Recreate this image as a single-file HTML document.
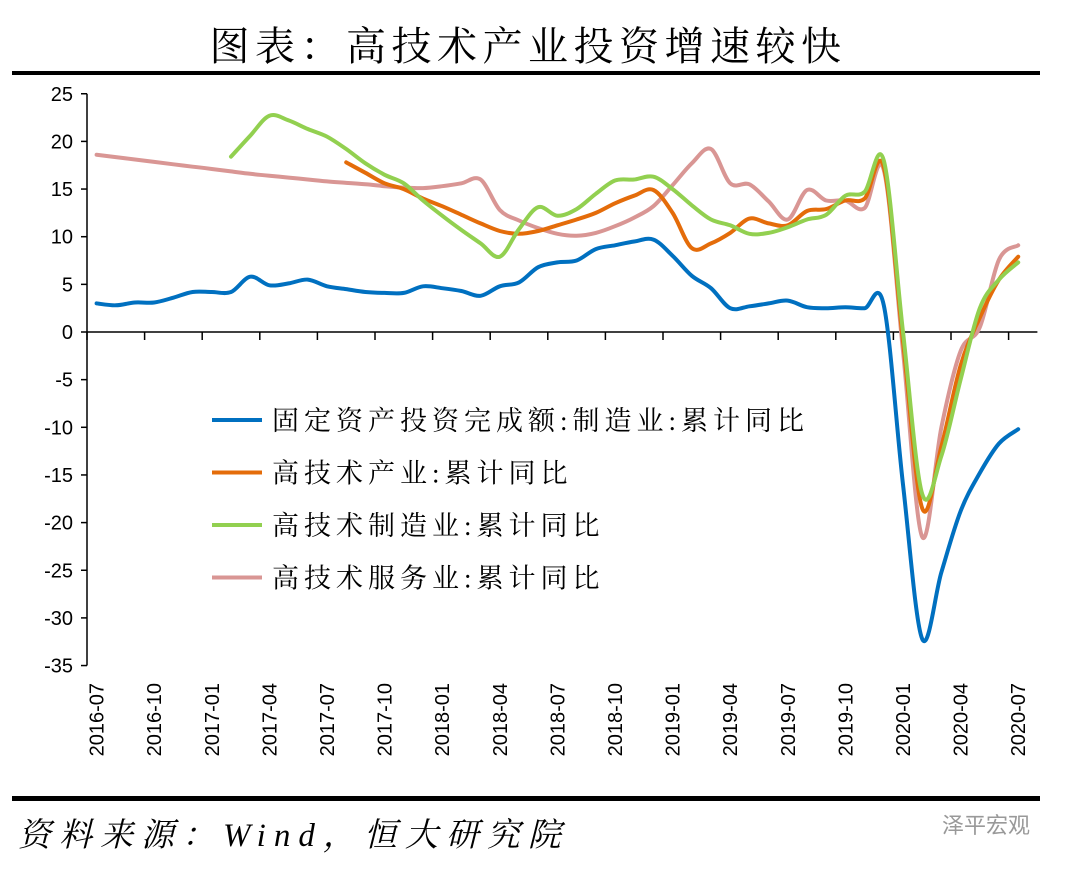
<!DOCTYPE html>
<html><head><meta charset="utf-8">
<style>
body{margin:0;background:#fff;width:1065px;height:870px;overflow:hidden;}
svg{display:block}
</style></head>
<body>
<svg id="chart" width="1065" height="870" xmlns="http://www.w3.org/2000/svg">
<text x="528" y="60" text-anchor="middle" font-family="'Liberation Serif','Noto Serif CJK SC',serif" font-size="40" letter-spacing="5.5" fill="#000">图表：高技术产业投资增速较快</text>
<rect x="12" y="71" width="1028" height="4" fill="#000"/>
<rect x="12" y="796" width="1028" height="5" fill="#000"/>
<text x="18" y="846" font-family="'Liberation Serif','Noto Serif CJK SC',serif" font-style="italic" font-size="33" letter-spacing="8" fill="#000">资料来源：Wind，恒大研究院</text>
<text x="1030" y="833" text-anchor="end" font-family="'Liberation Sans','Noto Sans CJK SC',sans-serif" font-size="22" fill="#999">泽平宏观</text>
<g id="axes"></g>
<g id="series"></g>
<g id="legend"></g>
</svg>
<script>
const months = [];
for(let y=2016,m=7;!(y===2020&&m===8);){months.push(y+'-'+String(m).padStart(2,'0'));m++;if(m>12){m=1;y++;}}
const yTicks = [25,20,15,10,5,0,-5,-10,-15,-20,-25,-30,-35];
const xTickLabels = ['2016-07','2016-10','2017-01','2017-04','2017-07','2017-10','2018-01','2018-04','2018-07','2018-10','2019-01','2019-04','2019-07','2019-10','2020-01','2020-04','2020-07'];
const seriesNames = ['固定资产投资完成额:制造业:累计同比','高技术产业:累计同比','高技术制造业:累计同比','高技术服务业:累计同比'];
const seriesColors = ['#0070c0','#e46c0a','#92d050','#d99694'];
const N = null;
const fai = [3.0,2.8,3.1,3.1,3.6,4.2,4.2,4.2,5.8,4.9,5.1,5.5,4.8,4.5,4.2,4.1,4.1,4.8,4.6,4.3,3.8,4.8,5.2,6.8,7.3,7.5,8.7,9.1,9.5,9.7,8.0,5.9,4.6,2.5,2.7,3.0,3.3,2.6,2.5,2.6,2.5,2.8,-16,-32.2,-25.2,-18.8,-14.8,-11.7,-10.2];
const hiTech = [N,N,N,N,N,N,N,N,N,N,N,N,N,17.8,16.7,15.6,15.0,14.0,13.2,12.3,11.4,10.6,10.3,10.6,11.2,11.8,12.5,13.5,14.3,14.9,12.5,8.8,9.3,10.4,11.9,11.4,11.2,12.7,12.9,13.8,14.0,17.3,-1,-18.5,-12,-3.5,1.5,5.5,7.9];
const hiMfg = [N,N,N,N,N,N,N,18.4,20.6,22.7,22.2,21.3,20.5,19.2,17.7,16.5,15.6,13.8,12.2,10.7,9.3,7.9,10.8,13.1,12.2,12.9,14.5,15.9,16.0,16.3,15.0,13.3,11.8,11.2,10.3,10.4,11.0,11.8,12.3,14.3,14.7,18.0,0,-17.0,-13,-5,2.5,5.5,7.3];
const hiSvc = [18.6,18.35,18.1,17.85,17.6,17.35,17.1,16.85,16.6,16.4,16.2,16.0,15.8,15.65,15.5,15.3,15.15,15.1,15.3,15.6,16.0,12.8,11.7,10.9,10.3,10.1,10.4,11.1,12.0,13.2,15.4,17.7,19.2,15.6,15.5,13.7,11.8,14.9,13.8,13.8,13.0,17.0,-2,-21.5,-10,-2,0.5,7.6,9.1];
const allSeries = [fai,hiTech,hiMfg,hiSvc];

const NS='http://www.w3.org/2000/svg';
const X0=87, STEP=19.2, Y0=332, PER=9.53;
function xPos(i){return X0+STEP*(i+0.5);}
function yPos(v){return Y0-PER*v;}
function mk(tag,attrs,parent){const e=document.createElementNS(NS,tag);for(const k in attrs)e.setAttribute(k,attrs[k]);parent.appendChild(e);return e;}
const axes=document.getElementById('axes');
const yAxis=mk('line',{x1:X0,y1:yPos(25),x2:X0,y2:yPos(-35),stroke:'#000','stroke-width':1.5},axes);


yTicks.forEach(v=>{
  const t=mk('line',{x1:X0-6,y1:yPos(v),x2:X0,y2:yPos(v),stroke:'#000','stroke-width':1.5},axes);
  
  
  const l=mk('text',{x:X0-14,y:yPos(v)+7,'text-anchor':'end','font-family':"'Liberation Sans',sans-serif",'font-size':20,fill:'#000'},axes);
  l.textContent=v;
  
  
});
const xAxis=mk('line',{x1:X0,y1:Y0,x2:X0+STEP*49.5,y2:Y0,stroke:'#000','stroke-width':1.5},axes);


for(let i=0;i<=49;i+=3){
  const t=mk('line',{x1:X0+STEP*i,y1:Y0,x2:X0+STEP*i,y2:Y0+8,stroke:'#000','stroke-width':1.5},axes);
  
  
}
xTickLabels.forEach(lab=>{
  const i=months.indexOf(lab);
  const x=xPos(i)+7, y=683;
  const l=mk('text',{x:x,y:y,'text-anchor':'end','font-family':"'Liberation Sans',sans-serif",'font-size':20,fill:'#000',transform:`rotate(-90 ${x} ${y})`},axes);
  l.textContent=lab;
  
  
});
function smoothPath(pts){
  let d=`M${pts[0][0]},${pts[0][1]}`;
  for(let i=0;i<pts.length-1;i++){
    const p0=pts[Math.max(0,i-1)],p1=pts[i],p2=pts[i+1],p3=pts[Math.min(pts.length-1,i+2)];
    const c1=[p1[0]+(p2[0]-p0[0])/6,p1[1]+(p2[1]-p0[1])/6];
    const c2=[p2[0]-(p3[0]-p1[0])/6,p2[1]-(p3[1]-p1[1])/6];
    d+=` C${c1[0].toFixed(1)},${c1[1].toFixed(1)} ${c2[0].toFixed(1)},${c2[1].toFixed(1)} ${p2[0].toFixed(1)},${p2[1].toFixed(1)}`;
  }
  return d;
}
const sg=document.getElementById('series');
const drawOrder=[3,1,2,0];
const seriesKeys=['series-manufacturing-fai','series-high-tech-industry','series-high-tech-manufacturing','series-high-tech-services'];
drawOrder.forEach(s=>{
  const pts=[];
  allSeries[s].forEach((v,i)=>{if(v!==null)pts.push([xPos(i),yPos(v)]);});
  const p=mk('path',{d:smoothPath(pts),fill:'none',stroke:seriesColors[s],'stroke-width':4,'stroke-linejoin':'round','stroke-linecap':'round'},sg);
  
  
});
const lg=document.getElementById('legend');
seriesNames.forEach((n,k)=>{
  const y=420+k*52.5;
  const ln=mk('line',{x1:212,y1:y,x2:262,y2:y,stroke:seriesColors[k],'stroke-width':4},lg);
  
  
  const t=mk('text',{x:272,y:y+10,'font-family':"'Liberation Serif','Noto Serif CJK SC',serif",'font-size':27,'letter-spacing':5,fill:'#000'},lg);
  t.textContent=n;
  
  
});
</script>
</body></html>
